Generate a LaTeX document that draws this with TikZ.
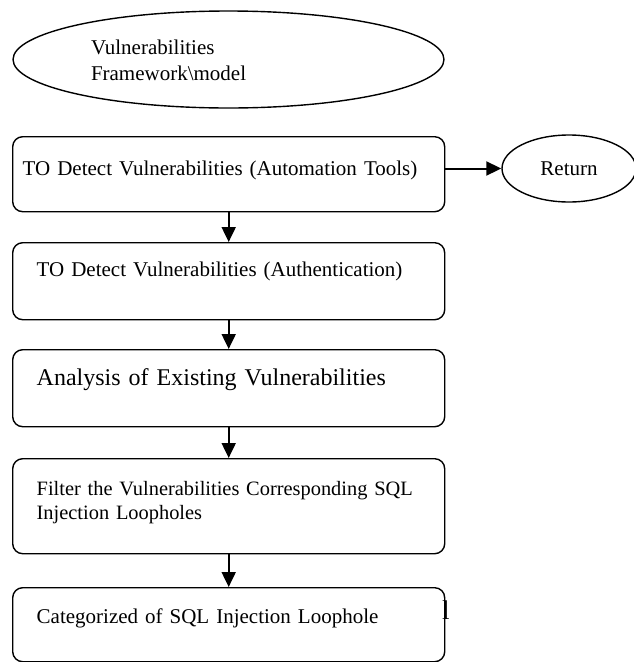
\documentclass[tikz,border=0pt]{standalone}
\usepackage{fontspec}
\setmainfont{Liberation Serif}
\usetikzlibrary{arrows.meta, shapes.geometric, positioning}

\tikzset{
  stepbox/.style={draw, rounded corners=10pt, line width=1.4pt, anchor=north west, align=left,
    inner ysep=0pt, inner xsep=24pt, text width=384pt, font=\fontsize{21}{24}\selectfont},
  oval/.style={draw, ellipse, line width=1.4pt, inner sep=0pt, font=\fontsize{21}{26}\selectfont},
  flow/.style={line width=2pt, -{Triangle[length=15pt,width=14pt]}}
}

\begin{document}
\begin{tikzpicture}[x=1pt,y=-1pt]
\useasboundingbox (0,0) rectangle (633,662);
\node[oval, minimum width=431pt, minimum height=97pt, text width=275pt, align=left,
  text height=15pt, text depth=26pt] (model) at (228.5,59.5) {Vulnerabilities\\Framework\textbackslash model};
\node[stepbox, inner xsep=10pt, text width=412pt, text height=39pt, text depth=36pt] (auto) at (12,136)
  {TO Detect Vulnerabilities (Automation Tools)};
\node[oval, minimum width=134pt, minimum height=67pt] (ret) at (569,168.5) {Return};
\node[stepbox, text height=34pt, text depth=43pt] (auth) at (12,242)
  {TO Detect Vulnerabilities (Authentication)};
\node[stepbox, font=\fontsize{24}{28}\selectfont, text height=36pt, text depth=41pt] (exist) at (12,349)
  {Analysis of Existing Vulnerabilities};
\node[stepbox, font=\fontsize{20.4}{24}\selectfont, text height=37pt, text depth=58pt] (filter) at (12,458)
  {Filter the Vulnerabilities Corresponding SQL\\Injection Loopholes};
\node[stepbox, text height=36pt, text depth=38pt] (categ) at (12,587)
  {Categorized of SQL Injection Loophole};
\node[inner sep=0pt, anchor=base west, font=\fontsize{27}{30}\selectfont] (mark) at (442,619) {l};

% connectors
\draw[flow] (auto.east |- ret.west) -- (ret.west);
\draw[flow] (auto.south) -- (auth.north);
\draw[flow] (auth.south) -- (exist.north);
\draw[flow] (exist.south) -- (filter.north);
\draw[flow] (filter.south) -- (categ.north);
\end{tikzpicture}
\end{document}
